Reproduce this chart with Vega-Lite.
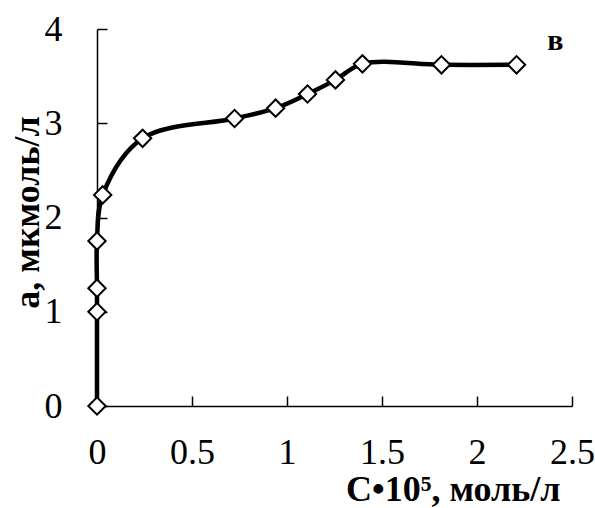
{
  "$schema": "https://vega.github.io/schema/vega-lite/v6.json",
  "width": 475,
  "height": 377,
  "autosize": {"type": "none"},
  "padding": {"left": 97, "top": 29, "right": 23, "bottom": 102},
  "background": "white",
  "config": {
    "view": {"stroke": null},
    "axis": {
      "grid": false,
      "domainColor": "black",
      "domainWidth": 1.5,
      "tickColor": "black",
      "tickWidth": 1.5,
      "tickSize": -10,
      "labelFlush": false,
      "labelOverlap": false,
      "labelFont": "Liberation Serif",
      "labelFontSize": 36,
      "labelColor": "black",
      "titleFont": "Liberation Serif",
      "titleFontSize": 36,
      "titleFontWeight": "bold",
      "titleColor": "black"
    }
  },
  "title": {
    "text": "в",
    "anchor": "end",
    "orient": "top",
    "offset": -17,
    "dx": -31,
    "dy": 52,
    "baseline": "alphabetic",
    "font": "Liberation Serif",
    "fontSize": 30,
    "fontWeight": "bold",
    "color": "black"
  },
  "data": {
    "values": [
      {"c": 0, "a": 0},
      {"c": 0, "a": 1.0},
      {"c": 0, "a": 1.25},
      {"c": 0, "a": 1.75},
      {"c": 0.03, "a": 2.24},
      {"c": 0.24, "a": 2.84},
      {"c": 0.724, "a": 3.05},
      {"c": 0.94, "a": 3.16},
      {"c": 1.108, "a": 3.31},
      {"c": 1.255, "a": 3.46},
      {"c": 1.397, "a": 3.63},
      {"c": 1.813, "a": 3.62},
      {"c": 2.208, "a": 3.62}
    ]
  },
  "encoding": {
    "x": {
      "field": "c",
      "type": "quantitative",
      "scale": {"domain": [0, 2.5], "nice": false, "zero": true},
      "axis": {
        "values": [0, 0.5, 1, 1.5, 2, 2.5],
        "format": "~g",
        "labelBaseline": "alphabetic",
        "labelPadding": 67,
        "title": "С•10⁵, моль/л",
        "titleAnchor": "end",
        "titleAlign": "right",
        "titleX": 463,
        "titleY": 94,
        "titleBaseline": "alphabetic"
      }
    },
    "y": {
      "field": "a",
      "type": "quantitative",
      "scale": {"domain": [0, 4], "nice": false},
      "axis": {
        "values": [0, 1, 2, 3, 4],
        "format": "~g",
        "labelPadding": 45,
        "title": "а, мкмоль/л",
        "titleX": -59,
        "titleY": 183,
        "titleAngle": -90,
        "titleAlign": "center",
        "titleBaseline": "alphabetic"
      }
    }
  },
  "layer": [
    {
      "mark": {"type": "line", "interpolate": "catmull-rom", "color": "black", "strokeWidth": 4.5}
    },
    {
      "mark": {"type": "point", "shape": "diamond", "filled": true, "fill": "white", "stroke": "black", "strokeWidth": 2, "size": 300, "opacity": 1}
    }
  ]
}
